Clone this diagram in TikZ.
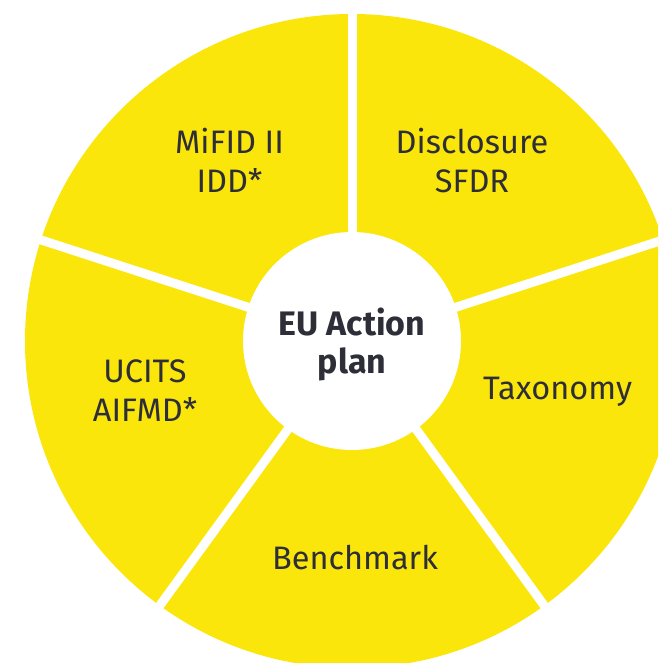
\documentclass[tikz,border=0pt]{standalone}
\usepackage{fontspec}
\setmainfont{Fira Sans}
\definecolor{eyyellow}{RGB}{250,230,10}
\definecolor{eytext}{RGB}{46,46,56}
\begin{document}
\begin{tikzpicture}[x=1pt,y=1pt,
  label/.style={anchor=base,align=center,inner sep=0pt,text=eytext,
    font=\fontsize{32.5}{39}\selectfont},
  centerlabel/.style={anchor=base,align=center,inner sep=0pt,text=eytext,
    font=\fontsize{34}{38}\selectfont\bfseries},
  gap/.style={draw=white,line width=9pt}]
\useasboundingbox (0,0) rectangle (658,663);
\fill[white] (0,0) rectangle (658,663);
\begin{scope}
\clip (0,0) rectangle (658,663);
\coordinate (c) at (352,322);
\fill[eyyellow] (c) circle[radius=327];
\foreach \a in {90,162,234,306,18}
  \draw[gap] (c) -- ++(\a:360);
\fill[white] (c) circle[radius=109];
\end{scope}
\node[centerlabel] (hub) at (352,289) {EU Action\\plan};
\node[label] (mifid) at (229.5,470) {MiFID II\\IDD*};
\node[label] (disc) at (472,470) {Disclosure\\SFDR};
\node[label] (tax) at (557.5,263) {Taxonomy};
\node[label] (bench) at (355,93) {Benchmark};
\node[label] (ucits) at (145,241) {UCITS\\AIFMD*};
\end{tikzpicture}
\end{document}
